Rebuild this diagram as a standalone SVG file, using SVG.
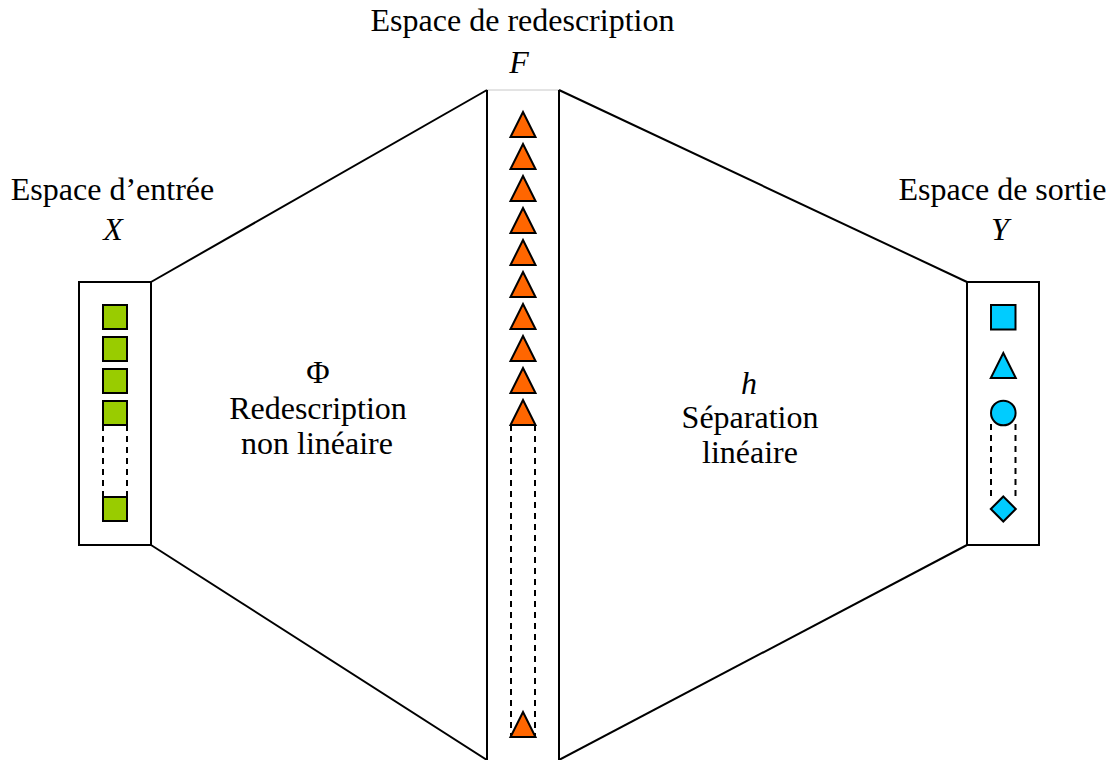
<svg xmlns="http://www.w3.org/2000/svg" width="1115" height="760" viewBox="0 0 1115 760">
<style>
  .t { font-family: "Liberation Serif", serif; font-size: 32px; fill: #000; text-anchor: middle; }
  .i { font-style: italic; }
  .box { fill: #fff; stroke: #000; stroke-width: 2; }
  .edge { fill: none; stroke: #000; stroke-width: 2; }
  .dash { fill: none; stroke: #000; stroke-width: 2; stroke-dasharray: 6 5; }
  .sq { fill: #99CC00; stroke: #000; stroke-width: 2; }
  .tri { fill: #FF6600; stroke: #000; stroke-width: 2; stroke-linejoin: miter; }
  .cy { fill: #00CCFF; stroke: #000; stroke-width: 2; }
</style>
<defs>
  <polygon id="otri" class="tri" points="0,0 12.5,25 -12.5,25"/>
</defs>
<rect width="1115" height="760" fill="#fff"/>

<g id="connectors">
  <line class="edge" x1="151" y1="282" x2="487" y2="90"/>
  <line class="edge" x1="151" y1="545" x2="487" y2="760"/>
  <line class="edge" x1="559" y1="90" x2="967" y2="282"/>
  <line class="edge" x1="559" y1="760" x2="967" y2="545"/>
  <line x1="487" y1="90" x2="559" y2="90" stroke="#c8c8c8" stroke-width="1"/>
  <line class="edge" x1="487" y1="90" x2="487" y2="760"/>
  <line class="edge" x1="559" y1="90" x2="559" y2="760"/>
</g>

<g id="input-space">
  <rect class="box" x="79" y="282" width="72" height="263"/>
  <rect class="sq" x="103" y="305" width="24" height="24"/>
  <rect class="sq" x="103" y="337" width="24" height="24"/>
  <rect class="sq" x="103" y="369" width="24" height="24"/>
  <rect class="sq" x="103" y="401" width="24" height="24"/>
  <line class="dash" x1="103" y1="425" x2="103" y2="497"/>
  <line class="dash" x1="127" y1="425" x2="127" y2="497"/>
  <rect class="sq" x="103" y="497" width="24" height="24"/>
</g>

<g id="feature-space">
  <use href="#otri" x="523" y="112"/>
  <use href="#otri" x="523" y="144"/>
  <use href="#otri" x="523" y="176"/>
  <use href="#otri" x="523" y="208"/>
  <use href="#otri" x="523" y="240"/>
  <use href="#otri" x="523" y="272"/>
  <use href="#otri" x="523" y="304"/>
  <use href="#otri" x="523" y="336"/>
  <use href="#otri" x="523" y="368"/>
  <use href="#otri" x="523" y="400"/>
  <line class="dash" x1="511" y1="425" x2="511" y2="737"/>
  <line class="dash" x1="535" y1="425" x2="535" y2="737"/>
  <use href="#otri" x="523" y="712"/>
</g>

<g id="output-space">
  <rect class="box" x="967" y="282" width="72" height="263"/>
  <rect class="cy" x="991" y="305" width="24.5" height="24.5"/>
  <polygon class="cy" points="1003.3,353 1015.8,378 990.8,378"/>
  <line class="dash" x1="991" y1="424" x2="991" y2="497"/>
  <line class="dash" x1="1015.5" y1="424" x2="1015.5" y2="497"/>
  <circle class="cy" cx="1003.3" cy="413" r="12.3"/>
  <polygon class="cy" points="1003.3,496.5 1015.8,509 1003.3,521.5 990.8,509"/>
</g>

<g id="labels">
  <text class="t" x="522.5" y="31">Espace de redescription</text>
  <text class="t i" x="519" y="73">F</text>
  <text class="t" x="112.5" y="200">Espace d’entrée</text>
  <text class="t i" x="113" y="240">X</text>
  <text class="t" x="1002.5" y="200">Espace de sortie</text>
  <text class="t i" x="1000" y="240">Y</text>
  <text class="t" x="318" y="383">Φ</text>
  <text class="t" x="318" y="419">Redescription</text>
  <text class="t" x="317" y="454">non linéaire</text>
  <text class="t i" x="749" y="394">h</text>
  <text class="t" x="750" y="428">Séparation</text>
  <text class="t" x="750" y="463">linéaire</text>
</g>
</svg>
